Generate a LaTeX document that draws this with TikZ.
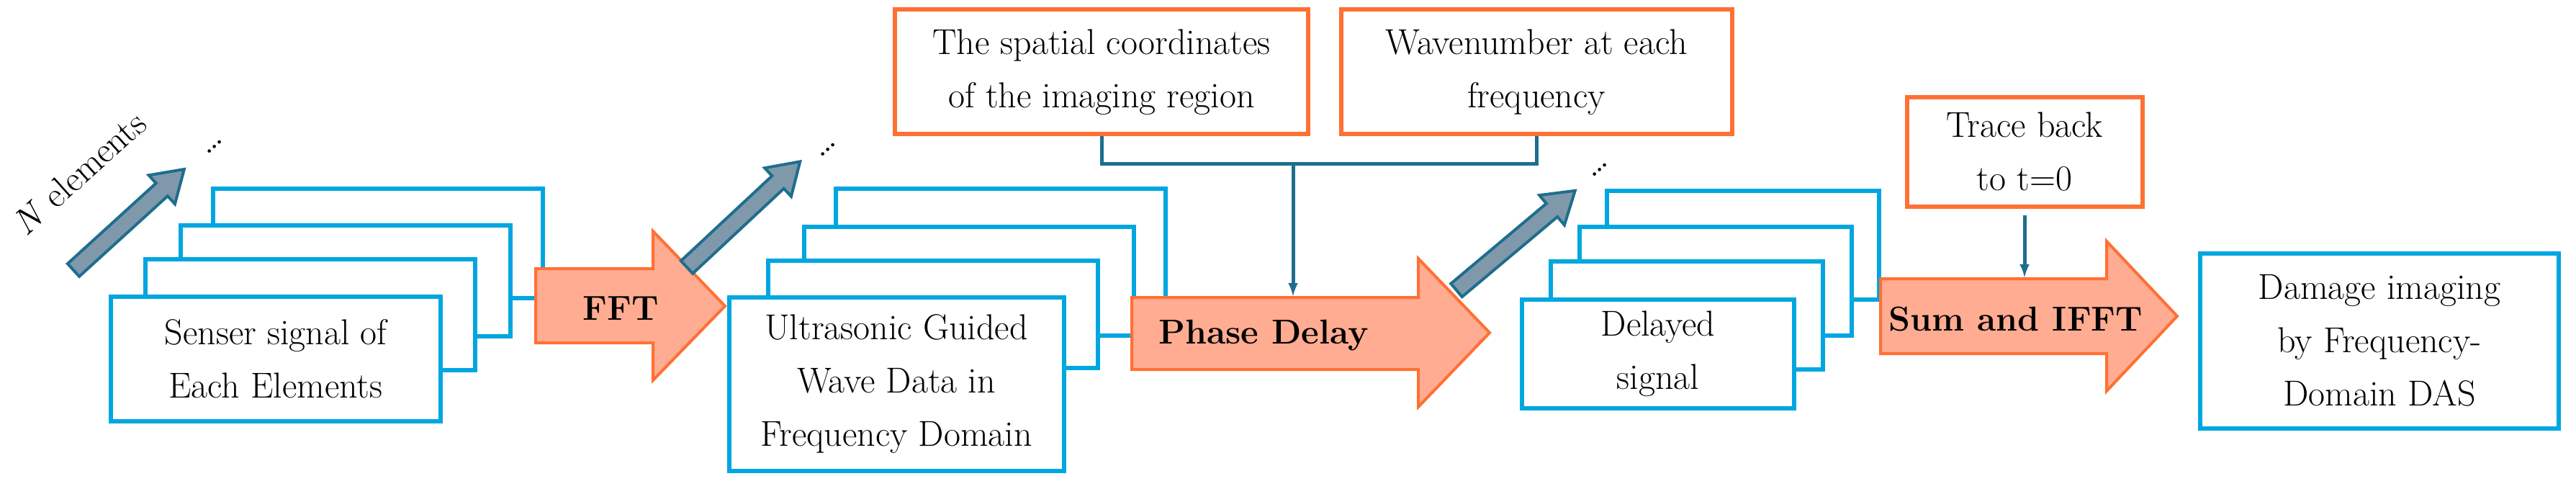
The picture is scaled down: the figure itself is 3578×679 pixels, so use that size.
\documentclass[tikz,border=0pt]{standalone}
\begin{document}
\begin{tikzpicture}[x=1pt,y=-1pt,
  bbox/.style={draw=boxblue,line width=6pt,fill=white,inner sep=0pt,align=center,font=\fontsize{50}{74}\selectfont},
  obox/.style={draw=boxorange,line width=6pt,fill=white,inner sep=0pt,align=center,font=\fontsize{50}{74}\selectfont},
  big/.style={draw=boxorange,line width=4pt,fill=salmon},
  gray/.style={draw=teal2,line width=4pt,fill=grayfill},
  lbl/.style={font=\bfseries\fontsize{48}{54}\selectfont},
  conn/.style={draw=teal2,line width=5pt},
  dots/.style={font=\fontsize{56}{60}\selectfont}]
\definecolor{boxblue}{HTML}{00A6E0}
\definecolor{boxorange}{HTML}{FF7033}
\definecolor{salmon}{HTML}{FFAC92}
\definecolor{teal2}{HTML}{1E6E8E}
\definecolor{grayfill}{HTML}{8099AA}
\useasboundingbox (0,0) rectangle (3578,679);
% stack 1
\node[bbox,minimum width=458,minimum height=152] (s1d) at (525,338) {};
\node[bbox,minimum width=458,minimum height=154] (s1c) at (480,390) {};
\node[bbox,minimum width=458,minimum height=154] (s1b) at (431,437) {};
\node[bbox,minimum width=458,minimum height=173] (s1) at (383,498) {Senser signal of\\Each Elements};
% stack 2
\node[bbox,minimum width=458,minimum height=153] (s2d) at (1390,338) {};
\node[bbox,minimum width=458,minimum height=151] (s2c) at (1346,390) {};
\node[bbox,minimum width=458,minimum height=149] (s2b) at (1296,436) {};
\node[bbox,minimum width=465,minimum height=241] (s2) at (1245,533) {Ultrasonic Guided\\Wave Data in\\Frequency Domain};
% stack 3
\node[bbox,minimum width=378,minimum height=151] (s3d) at (2421,340) {};
\node[bbox,minimum width=378,minimum height=151] (s3c) at (2383,390) {};
\node[bbox,minimum width=378,minimum height=150] (s3b) at (2343,438) {};
\node[bbox,minimum width=378,minimum height=151] (s3) at (2303,491) {Delayed\\signal};
% final
\node[bbox,minimum width=498,minimum height=243] (fin) at (3305,473) {Damage imaging\\by Frequency-\\Domain DAS};
% orange boxes
\node[obox,minimum width=574,minimum height=173] (sp) at (1530,100) {The spatial coordinates\\of the imaging region};
\node[obox,minimum width=543,minimum height=173] (wn) at (2134,100) {Wavenumber at each\\frequency};
\node[obox,minimum width=327,minimum height=151] (tr) at (2812,211) {Trace back\\to t=0};
% big arrows
\draw[big] (744,373) -- (907,373) -- (907,321) -- (1007,425) -- (907,528) -- (907,476) -- (744,476) -- cycle;
\node[lbl] (fft) at (862,428) {FFT};
\draw[big] (1572,413) -- (1970,413) -- (1970,359) -- (2069,462) -- (1970,565) -- (1970,513) -- (1572,513) -- cycle;
\node[lbl] (pd) at (1755,466) {Phase Delay};
\draw[big] (2612,387) -- (2926,387) -- (2926,335) -- (3024,439) -- (2926,543) -- (2926,491) -- (2612,491) -- cycle;
\node[lbl] (sum) at (2800,443) {Sum and IFFT};
% gray arrows
\foreach \sx/\sy/\ang/\L in {102/375/42.3/208, 954/371/43/215, 2023/403/40/215}{
  \begin{scope}[shift={(\sx,\sy)},rotate=\ang]
    \draw[gray] (0,-12) -- (\L-42,-12) -- (\L-42,-27) -- (\L,0) -- (\L-42,27) -- (\L-42,12) -- (0,12) -- cycle;
  \end{scope}}
\node[rotate=42,font=\fontsize{50}{56}\selectfont] (ne) at (110,240) {\textit{N} elements};
\node[rotate=42,dots] (d1) at (298,204) {\ldots};
\node[rotate=42,dots] (d2) at (1150,208) {\ldots};
\node[rotate=42,dots] (d3) at (2222,236) {\ldots};
% connectors
\coordinate (j) at (1796,227);
\draw[conn] (sp.south) |- (j) -| (wn.south);
\draw[conn,-latex] (j) -- (1796,411);
\coordinate (t1) at (2812,299);
\draw[conn,-latex] (t1) -- (2812,385);
\end{tikzpicture}
\end{document}
